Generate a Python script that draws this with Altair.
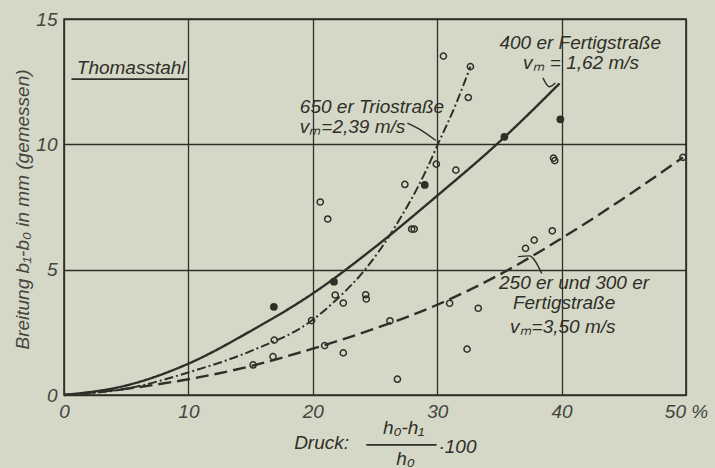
import altair as alt
import pandas as pd

# ---- data ----
# 400er Fertigstrasse (solid)
solid_x = [0, 5, 10, 15, 20, 25, 30, 35, 39.84]
solid_y = [0, 0.38, 1.25, 2.55, 4.05, 5.9, 7.95, 10.1, 12.43]
# 650er Triostrasse (dash-dot)
dd_x = [0, 5, 10, 15, 20, 22, 24.2, 26.6, 29.1, 30.05, 31.5, 32.67]
dd_y = [0, 0.25, 0.9, 1.75, 3.0, 3.85, 5.0, 6.7, 8.95, 10.0, 11.6, 13.1]
# 250er und 300er Fertigstrasse (dashed)
dash_x = [0, 5, 10, 15, 20, 25, 30, 35, 40, 45, 49.75]
dash_y = [0, 0.25, 0.63, 1.15, 1.85, 2.65, 3.6, 4.8, 6.25, 7.85, 9.48]

# measured points, open circles
open_x = [15.2, 16.8, 16.9, 19.9, 20.6, 21.2, 20.95, 21.8, 22.45, 22.45, 24.25, 24.3,
          26.2, 26.8, 27.4, 27.95, 28.15, 29.93, 30.5, 32.67, 32.5, 31.5, 31.0, 33.3,
          32.4, 37.1, 37.8, 39.25, 39.35, 39.45, 49.75]
open_y = [1.2, 1.53, 2.19, 2.97, 7.7, 7.02, 1.97, 3.99, 3.67, 1.68, 4.0, 3.83,
          2.96, 0.63, 8.4, 6.62, 6.62, 9.21, 13.52, 13.1, 11.87, 8.97, 3.66, 3.46,
          1.83, 5.85, 6.18, 6.55, 9.45, 9.35, 9.48]
# measured points, filled dots
fill_x = [16.87, 21.7, 29.0, 35.4, 39.9]
fill_y = [3.52, 4.52, 8.38, 10.3, 11.0]

x_ticks = [0, 10, 20, 30, 40, 50]
y_ticks = [0, 5, 10, 15]

# annotation texts
left_txt = ["650 er Triostraße", "vₘ=2,39 m/s", "400 er Fertigstraße", "vₘ = 1,62 m/s",
            "Druck:", "·100"]
left_x = [18.96, 18.96, 35.0, 36.9, 18.5, 30.1]
left_y = [11.49, 10.7, 14.05, 13.24, -1.91, -2.07]
cen_txt = ["Thomasstahl", "250 er und 300 er", "Fertigstraße", "vₘ=3,50 m/s", "h₀-h₁", "h₀"]
cen_x = [5.4, 41.0, 40.2, 40.1, 27.3, 27.45]
cen_y = [13.04, 4.47, 3.68, 2.72, -1.32, -2.55]

# pointer / bracket strokes (x, y, group)
br_x = [27.6, 28.6, 29.9, 38.5, 39.0, 39.5, 36.5, 37.4, 38.4]
br_y = [10.85, 10.6, 10.15, 12.65, 12.3, 12.45, 5.52, 5.55, 4.85]
br_g = ["a", "a", "a", "b", "b", "b", "c", "c", "c"]
# underline and fraction bar (x, x2, y)
rl_x = [0.6, 24.3]
rl_x2 = [9.95, 29.95]
rl_y = [12.6, -1.99]

BG = "#d6d8c7"
INK = "#2e2f28"
LAB = "#44453e"
FONT = "Liberation Sans"

xs = alt.Scale(domain=[0, 50], nice=False, zero=False)
ys = alt.Scale(domain=[0, 15], nice=False, zero=False)

x_axis = alt.Axis(values=x_ticks, grid=True, gridColor=INK, gridWidth=1.3, gridOpacity=1,
                  ticks=False, domain=False, labelFont=FONT, labelFontStyle="italic",
                  labelFontSize=19, labelColor=LAB, labelPadding=7, title=None,
                  labelFlush=False, labelOverlap=False,
                  labelExpr="datum.value == 50 ? '50 %' : datum.label")
y_axis = alt.Axis(values=y_ticks, grid=True, gridColor=INK, gridWidth=1.3, gridOpacity=1,
                  ticks=False, domain=False, labelFont=FONT, labelFontStyle="italic",
                  labelFontSize=19, labelColor=LAB, labelPadding=7,
                  labelFlush=False, labelOverlap=False,
                  title="Breitung b₁-b₀ in mm (gemessen)", titleFont=FONT,
                  titleFontStyle="italic", titleFontWeight="normal", titleFontSize=19,
                  titleColor=LAB, titleAngle=270, titleX=-42, titleY=190,
                  titleAlign="center", titleBaseline="middle")


def X():
    return alt.X("x:Q", scale=xs, axis=x_axis)


def Y():
    return alt.Y("y:Q", scale=ys, axis=y_axis)


def curve(xv, yv, dash, width):
    df = pd.DataFrame({"x": xv, "y": yv})
    return alt.Chart(df).mark_line(interpolate="monotone", color=INK, strokeWidth=width,
                                   strokeDash=dash).encode(x=X(), y=Y())


solid = curve(solid_x, solid_y, [1, 0], 2.4)
dashdot = curve(dd_x, dd_y, [9, 3, 2, 3], 2.0)
dashed = curve(dash_x, dash_y, [13, 6], 2.4)

opens = alt.Chart(pd.DataFrame({"x": open_x, "y": open_y})).mark_point(
    shape="circle", filled=False, size=38, strokeWidth=1.5, color=INK, opacity=1).encode(
    x=X(), y=Y())
fills = alt.Chart(pd.DataFrame({"x": fill_x, "y": fill_y})).mark_circle(
    size=60, color=INK, opacity=1).encode(x=X(), y=Y())

tl = alt.Chart(pd.DataFrame({"t": left_txt, "x": left_x, "y": left_y})).mark_text(
    align="left", baseline="middle", font=FONT, fontStyle="italic", fontSize=19,
    color=INK).encode(x=X(), y=Y(), text="t:N")
tc = alt.Chart(pd.DataFrame({"t": cen_txt, "x": cen_x, "y": cen_y})).mark_text(
    align="center", baseline="middle", font=FONT, fontStyle="italic", fontSize=19,
    color=INK).encode(x=X(), y=Y(), text="t:N")

brackets = alt.Chart(pd.DataFrame({"x": br_x, "y": br_y, "g": br_g})).mark_line(
    color=INK, strokeWidth=1.4, interpolate="monotone").encode(
    x=X(), y=Y(), detail="g:N")
rules = alt.Chart(pd.DataFrame({"x": rl_x, "x2": rl_x2, "y": rl_y})).mark_rule(
    color=INK, strokeWidth=1.6).encode(x=X(), x2="x2:Q", y=Y())

chart = alt.layer(solid, dashdot, dashed, opens, fills, tl, tc, brackets, rules).properties(
    width=622, height=376,
    autosize=alt.AutoSizeParams(type="none"),
    padding={"left": 64, "top": 19, "right": 29, "bottom": 73},
    background=BG,
).configure_view(stroke=INK, strokeWidth=1.6)

chart.save("out.html", embed_options={"renderer": "svg", "actions": False})
